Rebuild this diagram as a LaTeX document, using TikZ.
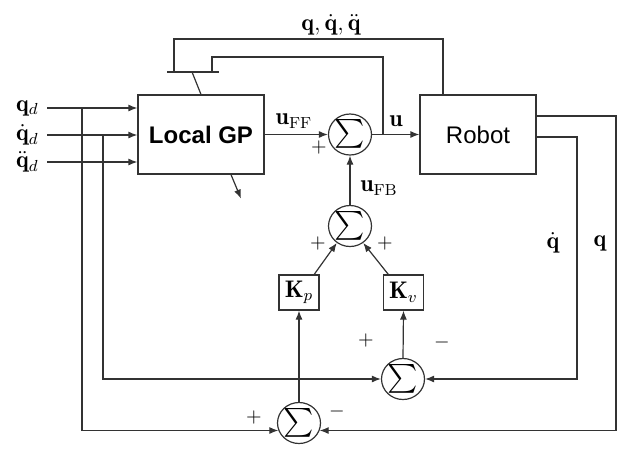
\documentclass[12pt,tikz,border=0pt]{standalone}
\usepackage{amsmath}
\usepackage{fontspec}
\setsansfont{Liberation Sans}
\usetikzlibrary{arrows.meta,shapes.geometric}

\begin{document}
\begin{tikzpicture}[x=0.5pt, y=-0.5pt,
		wire/.style={black!80, line width=0.6pt},
		arr/.style={wire, -{Latex[length=4.5pt,width=3.5pt]}},
		block/.style={draw=black!80, line width=0.6pt, minimum width=63pt, minimum height=39.5pt, inner sep=0pt},
		gain/.style={draw=black!80, line width=0.6pt, minimum width=20pt, minimum height=17.5pt, inner sep=0pt},
		summ/.style={draw=black!80, line width=0.6pt, ellipse, minimum width=18.5pt, minimum height=20.5pt, inner sep=0pt,
			font=\fontsize{13.5}{14}\selectfont, text height=9pt, text depth=2.2pt},
		sgn/.style={font=\footnotesize}]
	\useasboundingbox (0,0) rectangle (630,456);
	\node[block] (lgp) at (201,134.5) {\sffamily\bfseries Local GP};
	\node[block, minimum width=58pt] (robot) at (478,134.5) {\sffamily Robot};
	\node[summ] (sumu) at (350,134.5) {$\sum$};
	\node[summ] (sumfb) at (350,226) {$\sum$};
	\node[gain] (kp) at (299,292.5) {$\mathbf{K}_p$};
	\node[gain] (kv) at (403.5,292.5) {$\mathbf{K}_v$};
	\node[summ] (sump) at (299,423) {$\sum$};
	\node[summ] (sumv) at (403,379) {$\sum$};
	% inputs
	\coordinate (qdin) at (47,108);
	\coordinate (qddin) at (47,135);
	\coordinate (qdddin) at (47,162);
	\node[anchor=east] at (qdin) {$\mathbf{q}_d$};
	\node[anchor=east] at (qddin) {$\dot{\mathbf{q}}_d$};
	\node[anchor=east] at (qdddin) {$\ddot{\mathbf{q}}_d$};
	\draw[arr] (qdin) -- (qdin -| lgp.west);
	\draw[arr] (qddin) -- (qddin -| lgp.west);
	\draw[arr] (qdddin) -- (qdddin -| lgp.west);
	\coordinate (jp) at (82,108);
	\coordinate (jv) at (103,135);
	\draw[arr] (jp) |- (sump.200);
	\draw[arr] (jv) |- (sumv.west);
	% forward path
	\draw[arr] (lgp.east) -- (sumu.west);
	\draw[arr] (sumu.east) -- (robot.west);
	\draw[arr] (sumfb.north) -- (sumu.south);
	\draw[arr] (kp.50) -- (sumfb.232);
	\draw[arr] (kv.130) -- (sumfb.308);
	\draw[arr] (sump.north) -- (kp.south);
	\draw[arr] (sumv.north) -- (kv.south);
	\draw[arr] ([xshift=15pt]lgp.south) -- ++(10,24);
	\node at (294,121) {$\mathbf{u}_{\mathrm{FF}}$};
	\node at (396,121) {$\mathbf{u}$};
	\node at (379,188) {$\mathbf{u}_{\mathrm{FB}}$};
	% feedback
	\coordinate (qout) at (536,116);
	\coordinate (qdout) at (536,137);
	\draw[arr] (qout) -- ++(80,0) |- (sump.340);
	\draw[arr] (qdout) -- ++(41,0) |- (sumv.east);
	\node at (553,243) {$\dot{\mathbf{q}}$};
	\node at (600,243) {$\mathbf{q}$};
	% state back to the GP
	\coordinate (ujunc) at (383,134.5);
	\draw[wire] (167,72) -- (219,72);
	\draw[wire] (174,72) -- (174,39) -| ([xshift=-17.5pt]robot.north);
	\draw[wire] (212,72) -- (212,57) -| (ujunc);
	\draw[wire] (192,72) -- (lgp.north);
	\node at (331,25) {$\mathbf{q},\dot{\mathbf{q}},\ddot{\mathbf{q}}$};
	% signs
	\node[sgn] at (319,147) {$+$};
	\node[sgn] at (318,243) {$+$};
	\node[sgn] at (385,243) {$+$};
	\node[sgn] at (366,340) {$+$};
	\node[sgn] at (442,342) {$-$};
	\node[sgn] at (254,417) {$+$};
	\node[sgn] at (337,411) {$-$};
\end{tikzpicture}
\end{document}
